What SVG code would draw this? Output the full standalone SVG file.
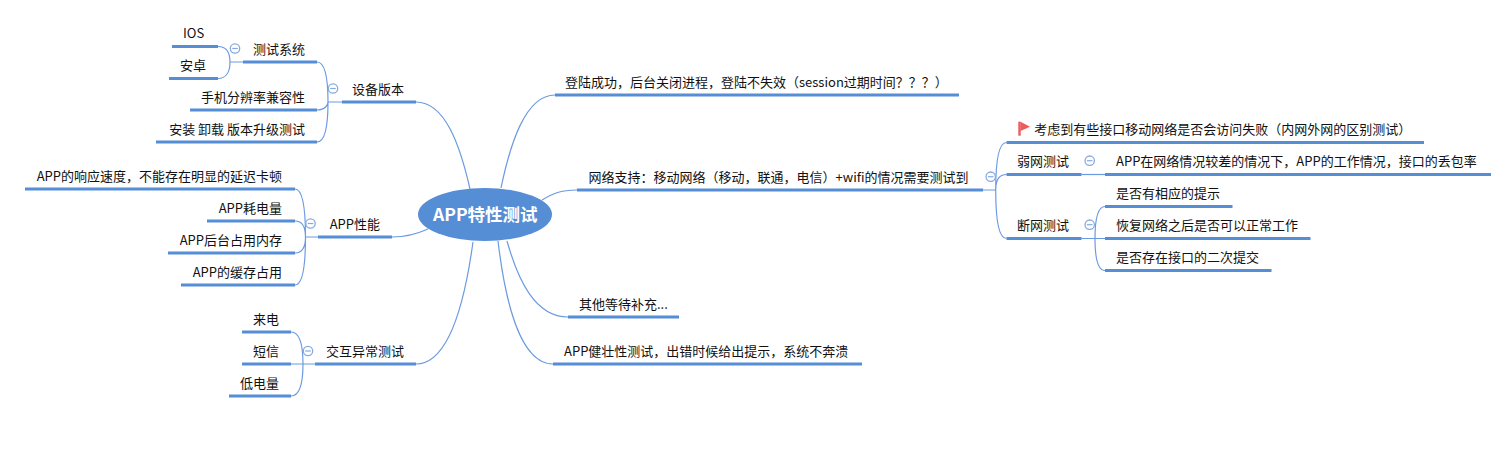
<svg xmlns="http://www.w3.org/2000/svg" width="1508" height="463" viewBox="0 0 1508 463">
<style>
.t{font-family:"Noto Sans CJK SC","Noto Sans",sans-serif;font-size:13px;fill:#111}
.e{text-anchor:end}
.b{stroke:#558ed5;stroke-width:3;fill:none}
.c{stroke:#6b9ae0;stroke-width:1.2;fill:none}
.m{fill:#fff;stroke:#86aae0;stroke-width:1.3}
.d{stroke:#86aae0;stroke-width:1.2}
</style>
<defs><g id="col"><circle class="m" r="4.700"/><line class="d" x1="-2.800" x2="2.800"/></g></defs>
<rect width="1508" height="463" fill="#fff"/>
<g id="connectors">
<path class="c" d="M416 102C445 102 460 145 470 189"/>
<path class="c" d="M392 237C405 237 417 234 428 229"/>
<path class="c" d="M416 364C450 364 465 300 473 242"/>
<path class="c" d="M555 95C525 95 510 145 501 188"/>
<path class="c" d="M577 190C560 190 552 194 542 200"/>
<path class="c" d="M568 317C535 317 518 280 507 241"/>
<path class="c" d="M553 364C520 364 505 300 498 241"/>
<path class="c" d="M342 102H328M328 102C328 80 326 62 317 62M328 102C328 104 326 110 317 110M328 102C328 122 326 142 317 142"/>
<path class="c" d="M243 62H230M230 62C230 52 226 46.500 218 46.500M230 62C230 72 226 78.500 218 78.500"/>
<path class="c" d="M318 237H305.500M305.500 237C305.500 210 303 189 295 189M305.500 237C305.500 230 304 221 295 221M305.500 237C305.500 244 304 253 295 253M305.500 237C305.500 262 303 285 295 285"/>
<path class="c" d="M315 364H291M303 364C303 345 300 332 291 332M303 364C303 383 300 396 291 396"/>
<path class="c" d="M983 190H995.700M995.700 190C995.700 165 998 142.500 1006.500 142.500M995.700 190C995.700 182 998 174.500 1006.500 174.500M995.700 190C995.700 215 998 238.500 1006.500 238.500"/>
<path class="c" d="M1081.500 174.500H1105"/>
<path class="c" d="M1081.500 238.500H1105M1095 238.500C1095 222 1097 206.500 1105 206.500M1095 238.500C1095 254 1097 270.500 1105 270.500"/>
</g>
<g id="root"><ellipse cx="485" cy="214.500" rx="67" ry="26.500" fill="#558ed5"/><text x="433" y="221" font-family="Noto Sans CJK SC,Noto Sans,sans-serif" font-size="17.500" font-weight="700" fill="#fff">APP特性测试</text></g>
<g id="n-ios"><path class="b" d="M172 46.500H218"/><text class="t" x="183" y="38">IOS</text></g>
<g id="n-android"><path class="b" d="M169 78.500H218"/><text class="t" x="180" y="70">安卓</text></g>
<g id="n-system"><path class="b" d="M243 62H317"/><text class="t" x="253" y="53.500">测试系统</text><use href="#col" x="235" y="48.500"/></g>
<g id="n-res"><path class="b" d="M190 110H317"/><text class="t e" x="305" y="101.500">手机分辨率兼容性</text></g>
<g id="n-install"><path class="b" d="M156 142H317"/><text class="t e" x="305" y="133.500">安装 卸载 版本升级测试</text></g>
<g id="n-device"><path class="b" d="M342 102H416"/><text class="t" x="352" y="93.500">设备版本</text><use href="#col" x="333" y="88.500"/></g>
<g id="n-speed"><path class="b" d="M25 189H295"/><text class="t e" x="282" y="180.500">APP的响应速度，不能存在明显的延迟卡顿</text></g>
<g id="n-power"><path class="b" d="M207 221H295"/><text class="t e" x="282" y="212.500">APP耗电量</text></g>
<g id="n-mem"><path class="b" d="M168 253H295"/><text class="t e" x="282" y="244.500">APP后台占用内存</text></g>
<g id="n-cache"><path class="b" d="M181 285H295"/><text class="t e" x="282" y="276.500">APP的缓存占用</text></g>
<g id="n-perf"><path class="b" d="M318 237H392"/><text class="t e" x="380" y="228.500">APP性能</text><use href="#col" x="310.500" y="223.500"/></g>
<g id="n-call"><path class="b" d="M242 332H291"/><text class="t" x="253" y="323.500">来电</text></g>
<g id="n-sms"><path class="b" d="M242 364H291"/><text class="t" x="253" y="355.500">短信</text></g>
<g id="n-low"><path class="b" d="M229 396H291"/><text class="t" x="240" y="387.500">低电量</text></g>
<g id="n-inter"><path class="b" d="M315 364H416"/><text class="t" x="326" y="355.500">交互异常测试</text><use href="#col" x="308" y="351"/></g>
<g id="n-login"><path class="b" d="M555 95H959"/><text class="t" x="565" y="86.500">登陆成功，后台关闭进程，登陆不失效（session过期时间？？？）</text></g>
<g id="n-net"><path class="b" d="M577 190H983"/><text class="t" x="588.500" y="181.500">网络支持：移动网络（移动，联通，电信）+wifi的情况需要测试到</text><use href="#col" x="990.700" y="176.700"/></g>
<g id="n-other"><path class="b" d="M568 317H679"/><text class="t" x="579" y="308.500">其他等待补充...</text></g>
<g id="n-robust"><path class="b" d="M553 364H862"/><text class="t" x="564" y="355.500">APP健壮性测试，出错时候给出提示，系统不奔溃</text></g>
<g id="n-consider"><path class="b" d="M1006.500 142.500H1424"/><path d="M1019.500 121.700V135.700" stroke="#f05a5a" stroke-width="2.400"/><path d="M1020.500 121.700L1030 126.700L1020.500 131Z" fill="#f05a5a"/><text class="t" x="1034.300" y="134">考虑到有些接口移动网络是否会访问失败（内网外网的区别测试）</text></g>
<g id="n-weak"><path class="b" d="M1006.500 174.500H1081.500"/><text class="t" x="1017" y="166">弱网测试</text><use href="#col" x="1089.700" y="160.700"/></g>
<g id="n-weak1"><path class="b" d="M1105 174.500H1491"/><text class="t" x="1116" y="166">APP在网络情况较差的情况下，APP的工作情况，接口的丢包率</text></g>
<g id="n-off"><path class="b" d="M1006.500 238.500H1081.500"/><text class="t" x="1017" y="230">断网测试</text><use href="#col" x="1089.700" y="224.700"/></g>
<g id="n-off1"><path class="b" d="M1105 206.500H1232.500"/><text class="t" x="1116" y="198">是否有相应的提示</text></g>
<g id="n-off2"><path class="b" d="M1105 238.500H1310.500"/><text class="t" x="1116" y="230">恢复网络之后是否可以正常工作</text></g>
<g id="n-off3"><path class="b" d="M1105 270.500H1271.500"/><text class="t" x="1116" y="262">是否存在接口的二次提交</text></g>
</svg>
